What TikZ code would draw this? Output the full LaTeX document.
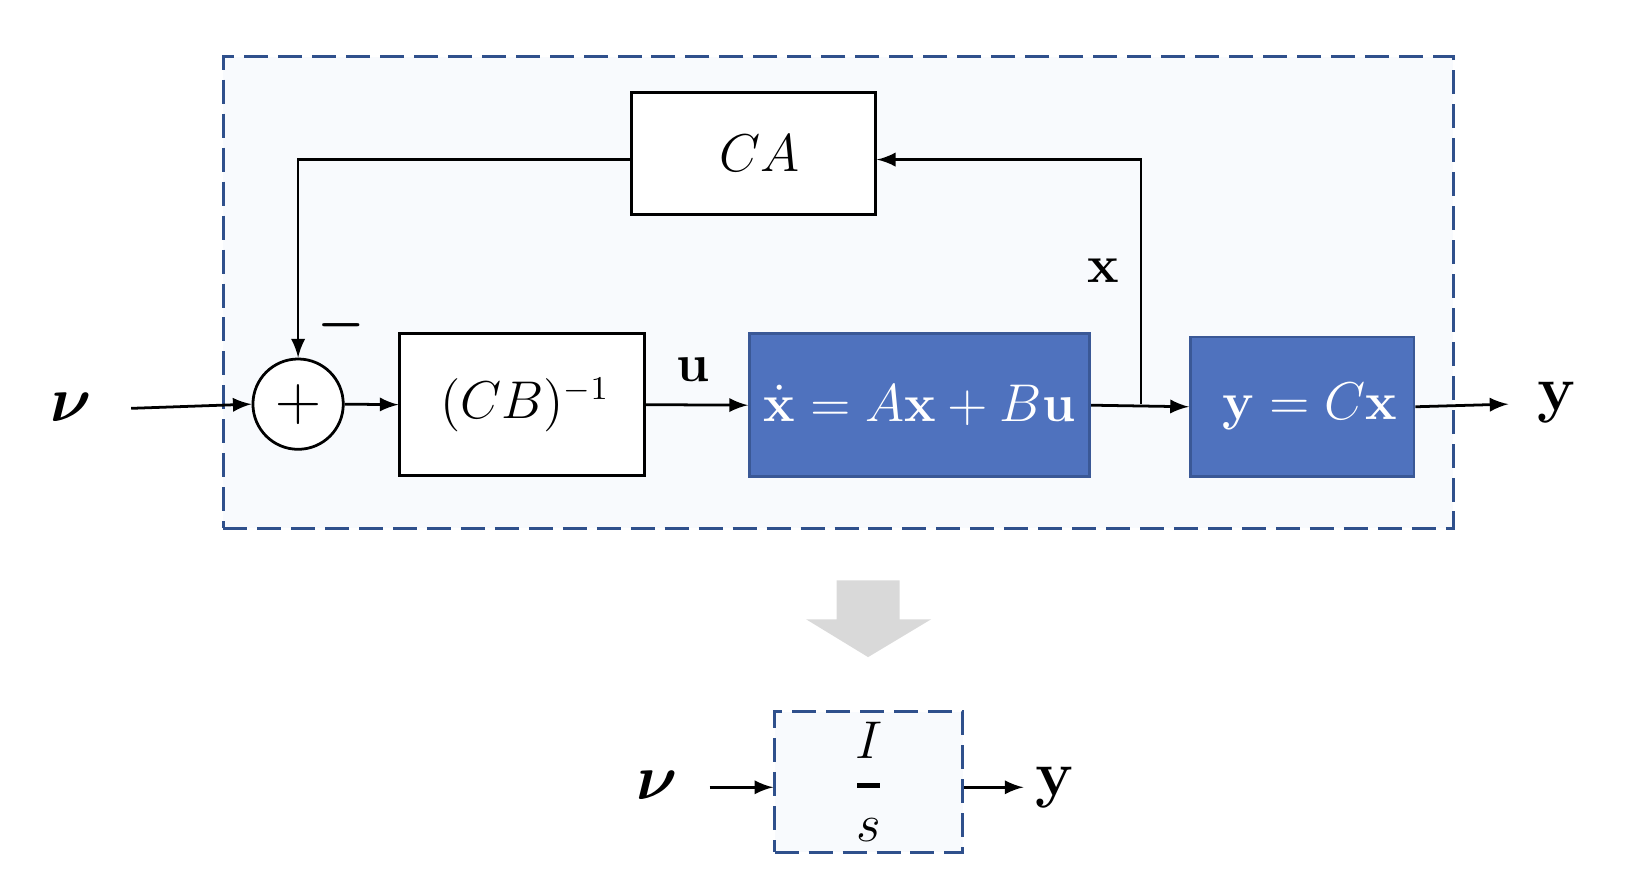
\documentclass[tikz,border=0pt]{standalone}
\usepackage{amsmath}
\usepackage{bm}
\definecolor{blockblue}{RGB}{79,114,190}
\definecolor{blockedge}{RGB}{58,88,150}
\definecolor{dashblue}{RGB}{47,80,140}
\definecolor{panel}{RGB}{248,250,253}
\definecolor{arrowgray}{RGB}{217,217,217}
\begin{document}
\begin{tikzpicture}[x=0.01cm, y=-0.01cm,
        block/.style={draw, line width=0.75pt, rectangle, inner sep=0pt, fill=white, font=\fontsize{13.5}{16}\selectfont},
        blueblock/.style={block, fill=blockblue, draw=blockedge, text=white},
        dashbox/.style={draw=dashblue, line width=0.75pt, dash pattern=on 6.5pt off 2.7pt, fill=panel, inner sep=0pt},
        sig/.style={line width=0.75pt, -latex},
        lbl/.style={font=\fontsize{15}{18}\selectfont},
        biglbl/.style={font=\fontsize{16}{19}\selectfont}
    ]
        \useasboundingbox (0,0) rectangle (1570,853.5);
        % closed loop
        \node[dashbox, minimum width=11.71cm, minimum height=4.49cm] (loop) at (798.5,278.5) {};
        \node[block, minimum width=2.32cm, minimum height=1.16cm] (CA) at (718,146) {\hspace{0.12cm}$CA$};
        \node[block, circle, minimum size=0.86cm, font=\fontsize{18}{20}\selectfont] (sum) at (284,385) {$+$};
        \node[block, minimum width=2.33cm, minimum height=1.35cm] (CBinv) at (497.5,385.5) {\hspace{0.05cm}$(CB)^{-1}$};
        \node[blueblock, minimum width=3.24cm, minimum height=1.36cm] (dyn) at (876,386) {$\dot{\mathbf{x}}=A\mathbf{x}+B\mathbf{u}$};
        \node[blueblock, minimum width=2.13cm, minimum height=1.33cm] (outp) at (1240.5,387.5) {\hspace{0.15cm}$\mathbf{y}=C\mathbf{x}$};

        \node[biglbl] (nu) at (68,388) {$\bm{\nu}$};
        \node[biglbl] (y) at (1483,383) {$\mathbf{y}$};
        \node[lbl] (u) at (660,352) {$\mathbf{u}$};
        \node[lbl] (x) at (1051,258) {$\mathbf{x}$};
        \node[lbl] (minus) at (325,310) {$\bm{-}$};

        \coordinate (nuin) at (125,389);
        \coordinate (branch) at (1087,385);
        \coordinate (yout) at (1437,385);
        \draw[sig] (nuin) -- (sum.west);
        \draw[sig] (sum.east) -- (CBinv.west);
        \draw[sig] (CBinv.east) -- (dyn.west);
        \draw[sig] (dyn.east) -- (outp.west);
        \draw[sig] (branch) |- ([yshift=-0.06cm]CA.east);
        \draw[sig] ([yshift=-0.06cm]CA.west) -| (sum.north);
        \draw[sig] (outp.east) -- (yout);

        % reduction arrow
        \fill[arrowgray] (797,553) -- (857,553) -- (857,590) -- (887,590) -- (827,626) -- (768,590) -- (797,590) -- cycle;

        % equivalent system
        \node[dashbox, minimum width=1.79cm, minimum height=1.34cm, align=center, font=\fontsize{15.5}{11.3}\selectfont] (tf) at (827.5,745) {$I$\\\rule[0.5ex]{0.22cm}{0.05cm}\\$s$};
        \node[biglbl] (nu2) at (626,748) {$\bm{\nu}$};
        \node[biglbl] (y2) at (1005,750) {$\mathbf{y}$};
        \coordinate (nuin2) at (676,750);
        \coordinate (yout2) at (975,750);
        \draw[sig] (nuin2) -- (nuin2 -| tf.west);
        \draw[sig] (tf.east |- yout2) -- (yout2);

    \end{tikzpicture}
\end{document}
